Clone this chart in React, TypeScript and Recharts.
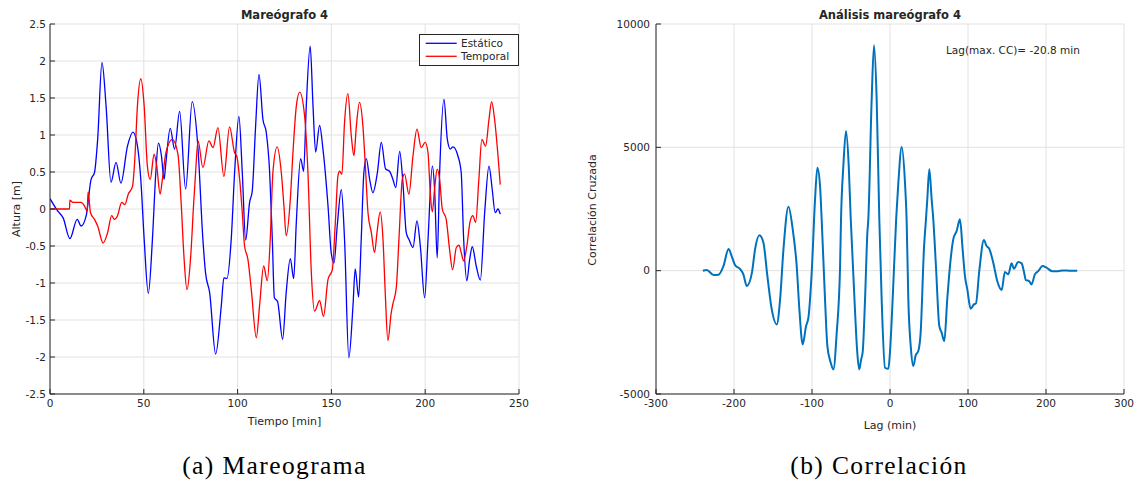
import React from 'react';
import { LineChart, Line, XAxis, YAxis, CartesianGrid } from 'recharts';

// Mareógrafo 4: tiempo (min) y altura (m) para cada serie
const estaticoT = [0, 4.2, 7, 10.6, 14.5, 16.6, 19.3, 21.9, 23.7, 25.4, 27.7, 29.9, 32.5, 35.2, 37.8, 41.3, 44.2, 46.3, 48.4, 50.2, 52.4, 54.6, 56.4, 57.8, 59.4, 60.8, 61.6, 64.1, 66.4, 69.1, 72.3, 75.8, 78.9, 81.5, 82.9, 85.1, 88.3, 91.3, 92.7, 94.3, 96.6, 98.4, 100.7, 102.5, 104.3, 106.4, 107.8, 109.6, 111.4, 113.5, 115.3, 117.1, 118.5, 119.6, 121.3, 124, 125.9, 128.1, 129.9, 131.3, 133.6, 135.2, 136.6, 138.7, 140.2, 141.6, 143.7, 145.5, 148.2, 149.9, 151.4, 153.1, 155.3, 157, 159.3, 161.5, 162.7, 164.5, 165.9, 167.3, 168.6, 170.4, 172.1, 174.5, 176.6, 178.9, 181, 182.8, 184.3, 186.4, 188.1, 189.9, 191.3, 193.5, 195.6, 197.4, 199.7, 201.5, 203.8, 205, 206.4, 207.7, 210, 211.8, 213.4, 214.8, 217.4, 219.2, 220.5, 222.2, 223.7, 225.1, 227.2, 229.4, 231.7, 234, 235.7, 237.3, 238.8, 240];
const estaticoV = [0.14, -0.03, -0.12, -0.4, -0.14, -0.23, -0.09, 0.4, 0.49, 0.94, 1.98, 1.39, 0.36, 0.63, 0.35, 0.85, 1.04, 0.9, 0.4, -0.41, -1.14, -0.41, 0.49, 0.89, 0.72, 0.4, 0.58, 1.09, 0.81, 1.32, 0.27, 1.45, 0.81, -0.41, -0.86, -1.13, -1.96, -1.31, -0.93, -0.94, -0.41, 0.49, 1.25, 0.49, -0.42, 0.09, 0.24, 1.12, 1.82, 1.21, 1.03, 0.49, -0.41, -1.2, -1.25, -1.76, -1.13, -0.67, -0.94, -0.18, 0.68, 0.51, 1.39, 2.2, 1.39, 0.77, 1.13, 0.81, 0.04, -0.59, -0.73, -0.23, 0.26, -0.41, -2.01, -1.31, -0.81, -1.19, -0.41, 0.49, 0.68, 0.4, 0.22, 0.49, 0.9, 0.54, 0.51, 0.4, 0.29, 0.78, 0.36, -0.32, -0.41, -0.52, -0.16, -0.5, -1.2, -0.41, 0.58, 0.27, -0.66, 0.49, 1.48, 0.94, 0.81, 0.84, 0.72, 0.49, -0.41, -0.97, -0.68, -0.51, -0.77, -0.96, -0.05, 0.58, 0.27, -0.05, 0, -0.07];

const temporalT = [0, 10.4, 10.6, 12.2, 16.6, 18.4, 19.8, 20.3, 21.6, 23.7, 25.4, 28.3, 30.7, 32.9, 34.3, 36, 38.2, 39.9, 41.7, 44, 45.2, 46.6, 48.4, 50.2, 51.9, 53.4, 55.5, 56.9, 58.7, 59.9, 61.8, 65.2, 68.2, 70, 71.4, 73, 75, 76.5, 77.6, 78.9, 81.5, 84.7, 86.9, 89.5, 92.7, 95.7, 98.4, 99.6, 101.1, 102.5, 103.7, 105.5, 107.3, 110, 111.7, 113.9, 115.8, 117.4, 118.8, 121.1, 123.3, 124.7, 125.9, 128.1, 129.5, 131.3, 133.1, 135.7, 137.5, 139.3, 141, 143.7, 145.8, 148.2, 150.5, 152.1, 153.5, 154.4, 155.6, 157, 158.8, 160.6, 162, 163.3, 165, 166.8, 168.1, 169.5, 171.3, 173, 174.3, 176, 177.5, 178.7, 180.1, 181.9, 182.8, 184.6, 186, 187.8, 189, 191.3, 193.5, 195.6, 197.9, 200, 201.5, 202.7, 203.8, 205, 206.4, 207.7, 209.1, 211.2, 213, 214.6, 216.6, 218, 219.2, 220.5, 222.2, 224, 225.4, 226.9, 228.6, 230.2, 232.2, 234, 235.4, 237, 238.8, 240];
const temporalV = [0, 0, 0.12, 0.09, 0.09, 0.04, -0.03, 0.23, -0.05, -0.14, -0.23, -0.46, -0.32, -0.09, -0.14, -0.09, 0.09, 0.06, 0.2, 0.31, 0.67, 1.39, 1.76, 1.39, 0.58, 0.4, 0.74, 0.58, 0.2, 0.4, 0.76, 0.94, 0.74, 0.04, -0.64, -1.09, -0.64, 0.04, 0.49, 0.92, 0.56, 0.92, 0.83, 1.1, 0.44, 1.11, 0.76, 0.71, 0.4, -0.05, -0.5, -0.68, -1.09, -1.74, -1.31, -0.77, -0.97, -0.41, 0.49, 0.84, 0.49, 0.04, -0.36, 0.13, 0.76, 1.39, 1.58, 1.26, 0.49, -0.86, -1.38, -1.24, -1.45, -0.95, -0.82, -0.18, 0.45, 0.51, 0.47, 1.17, 1.56, 0.99, 0.72, 1.12, 1.44, 1.12, 0.58, -0.05, -0.32, -0.59, -0.32, -0.04, -0.41, -1.13, -1.78, -1.4, -1.28, -1.06, -0.41, 0.4, 0.47, 0.2, 0.72, 1.08, 0.83, 0.9, 0.76, 0.22, -0.04, 0.27, 0.54, 0.4, 0, -0.14, -0.55, -0.82, -0.52, -0.49, -0.59, -0.7, -0.5, -0.16, -0.09, -0.18, 0.4, 0.94, 0.85, 1.21, 1.45, 1.21, 0.72, 0.33];

// Correlación cruzada contra el desfase (min)
const lagMin = [-240, -235, -226, -220, -213.5, -207, -203, -198.5, -192, -188, -183.6, -177, -173, -167.4, -162.3, -157.2, -151.6, -145.2, -140.9, -136.6, -130.2, -124.7, -119.6, -116.2, -111.9, -107.6, -104.6, -100.3, -96.1, -93.1, -89.7, -87.5, -83.3, -80.3, -76, -72.6, -68.3, -64, -62.8, -59.8, -56.4, -52.9, -50.3, -45.5, -42, -39.5, -37, -35, -32, -29, -27.8, -23.5, -20.5, -17.1, -13.7, -10.7, -6.4, -2.1, 0, 3.4, 8, 10.7, 15, 19.2, 21.3, 23.5, 26.9, 29.9, 32.9, 36.3, 39.3, 43.5, 46.1, 47.8, 50.4, 53.4, 55.5, 58.9, 63.2, 66.2, 69.6, 73.4, 76.9, 81.1, 85.4, 89.7, 93.1, 96.1, 99.1, 103.4, 107.6, 110.2, 114.4, 120.4, 123.8, 127.2, 132.4, 137.5, 143.1, 147.3, 151.6, 155.9, 158.8, 164.4, 168.7, 171.6, 174.2, 178.4, 181.5, 185.7, 190, 195.6, 200.7, 208.4, 215.6, 222, 230, 240];
const correlacion = [0, 30, -178, -170, 187, 880, 592, 220, 60, -150, -624, -81, 864, 1431, 1135, -219, -1569, -2178, -1164, 864, 2595, 1675, 187, -1569, -2989, -2245, -1906, -25, 2891, 4177, 3431, 2000, -1164, -3057, -3731, -4003, -2514, 187, 2080, 4242, 5661, 4242, 2080, -1200, -3300, -4000, -3600, -3290, -1164, 1541, 2080, 6946, 9136, 6946, 2080, -1164, -3934, -3980, -3290, -1164, 2150, 3568, 5012, 3568, 2080, -1164, -3190, -3867, -3435, -3260, -2514, 864, 2080, 2891, 4108, 2891, 2080, 187, -2245, -2514, -2853, -1164, 187, 1270, 1605, 2080, 864, -219, -758, -1541, -1367, -1326, -25, 1241, 998, 890, 324, -421, -786, -53, -150, 296, 81, 349, 296, -20, -381, -421, -556, -150, -20, 187, 120, -28, -20, 10, 0, 0];

const tiempoTicks = [0, 50, 100, 150, 200, 250];
const alturaTicks = [-2.5, -2, -1.5, -1, -0.5, 0, 0.5, 1, 1.5, 2, 2.5];
const lagTicks = [-300, -200, -100, 0, 100, 200, 300];
const ccTicks = [-5000, 0, 5000, 10000];

const FONT = '"DejaVu Sans", sans-serif';
const AXIS = '#262626';
const GRID = '#e2e2e2';
const tick = { fontSize: 10.5, fill: AXIS, fontFamily: FONT };

const estatico = estaticoT.map((t, i) => ({ t, v: estaticoV[i] }));
const temporal = temporalT.map((t, i) => ({ t, v: temporalV[i] }));
const cruzada = lagMin.map((lag, i) => ({ lag, cc: correlacion[i] }));

export default function App() {
  return (
    <div style={{ position: 'absolute', left: 0, top: 0, width: 1135, height: 485, background: '#fff', overflow: 'hidden' }}>
      <div style={{ position: 'absolute', left: 0, top: 0 }}>
        <LineChart width={530} height={430} margin={{ top: 24, right: 11, bottom: 0, left: 0 }}>
          <CartesianGrid stroke={GRID} />
          <XAxis dataKey="t" type="number" domain={[0, 250]} ticks={tiempoTicks} allowDataOverflow
            height={36} stroke={AXIS} tickSize={-5} tickMargin={11} tick={tick} />
          <XAxis xAxisId="top" orientation="top" type="number" domain={[0, 250]} ticks={tiempoTicks} allowDataOverflow
            height={0} stroke={AXIS} tickSize={-5} tick={false} />
          <YAxis type="number" domain={[-2.5, 2.5]} ticks={alturaTicks} allowDataOverflow
            width={50} stroke={AXIS} tickSize={-5} tickMargin={9} tick={tick} />
          <YAxis yAxisId="right" orientation="right" type="number" domain={[-2.5, 2.5]} ticks={alturaTicks} allowDataOverflow
            width={0} stroke={AXIS} tickSize={-5} tick={false} />
          <Line data={estatico} dataKey="v" type="monotone" stroke="#0000ff" strokeWidth={1.3} dot={false} isAnimationActive={false} />
          <Line data={temporal} dataKey="v" type="monotone" stroke="#ff0000" strokeWidth={1.3} dot={false} isAnimationActive={false} />
        </LineChart>
      </div>

      <div style={{ position: 'absolute', left: 590, top: 0 }}>
        <LineChart width={545} height={430} margin={{ top: 24, right: 11, bottom: 0, left: 0 }}>
          <CartesianGrid stroke={GRID} />
          <XAxis dataKey="lag" type="number" domain={[-300, 300]} ticks={lagTicks} allowDataOverflow
            height={36} stroke={AXIS} tickSize={-5} tickMargin={11} tick={tick} />
          <XAxis xAxisId="top" orientation="top" type="number" domain={[-300, 300]} ticks={lagTicks} allowDataOverflow
            height={0} stroke={AXIS} tickSize={-5} tick={false} />
          <YAxis type="number" domain={[-5000, 10000]} ticks={ccTicks} allowDataOverflow
            width={66} stroke={AXIS} tickSize={-5} tickMargin={11} tick={tick} />
          <YAxis yAxisId="right" orientation="right" type="number" domain={[-5000, 10000]} ticks={ccTicks} allowDataOverflow
            width={0} stroke={AXIS} tickSize={-5} tick={false} />
          <Line data={cruzada} dataKey="cc" type="monotone" stroke="#0072bd" strokeWidth={2} dot={false} isAnimationActive={false} />
        </LineChart>
      </div>

      <svg width={1135} height={485} style={{ position: 'absolute', left: 0, top: 0, pointerEvents: 'none' }}>
        <g fontFamily={FONT} fill={AXIS}>
          <text x={284.5} y={18.5} fontSize={11.5} fontWeight="bold" textAnchor="middle">Mareógrafo 4</text>
          <text x={890} y={18.5} fontSize={11.5} fontWeight="bold" textAnchor="middle">Análisis mareógrafo 4</text>
          <text x={284.5} y={425} fontSize={11} textAnchor="middle">Tiempo [min]</text>
          <text x={890} y={429} fontSize={11} textAnchor="middle">Lag (min)</text>
          <text transform="translate(20,209) rotate(-90)" fontSize={11} textAnchor="middle">Altura [m]</text>
          <text transform="translate(596,210) rotate(-90)" fontSize={11} textAnchor="middle">Correlación Cruzada</text>
          <text x={946} y={53.5} fontSize={10.5}>Lag(max. CC)= -20.8 min</text>
        </g>
        <g>
          <rect x={419.5} y={34.5} width={99} height={31} fill="#fff" stroke={AXIS} strokeWidth={1} />
          <line x1={425.7} x2={456.7} y1={43.3} y2={43.3} stroke="#0000ff" strokeWidth={1.3} />
          <line x1={425.7} x2={456.7} y1={56.3} y2={56.3} stroke="#ff0000" strokeWidth={1.3} />
          <text x={461} y={47} fontSize={10.5} fontFamily={FONT} fill={AXIS}>Estático</text>
          <text x={461} y={60} fontSize={10.5} fontFamily={FONT} fill={AXIS}>Temporal</text>
        </g>
        <g fontFamily='"Liberation Serif", serif' fontSize={25.5} fill="#000" letterSpacing={1.4}>
          <text x={274.5} y={474} textAnchor="middle">(a) Mareograma</text>
          <text x={879} y={474} textAnchor="middle">(b) Correlación</text>
        </g>
      </svg>
    </div>
  );
}
